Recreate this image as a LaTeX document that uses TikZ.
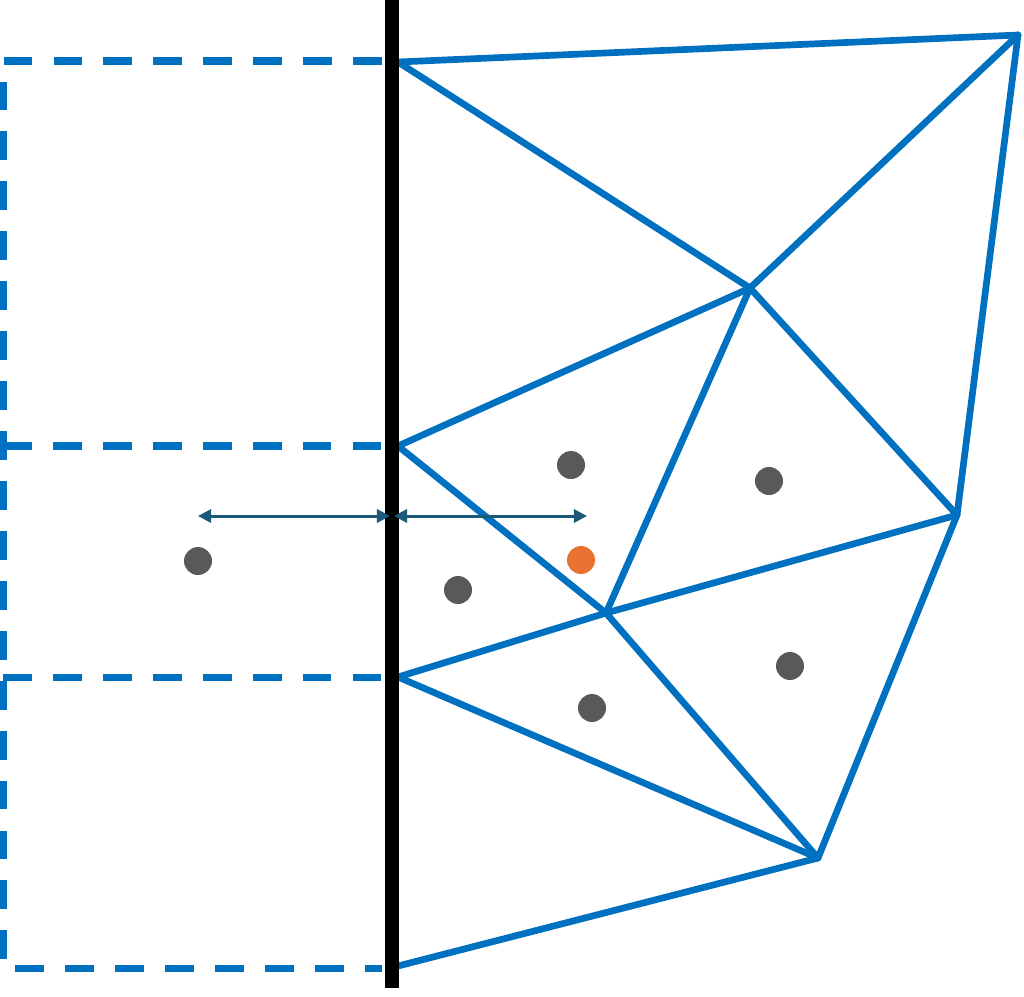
\documentclass[tikz,border=0pt]{standalone}
\usepackage{tkz-euclide}
\usetikzlibrary{arrows.meta}
\definecolor{mshblue}{RGB}{0,112,192}
\definecolor{mshgray}{RGB}{89,89,89}
\definecolor{mshorange}{RGB}{233,113,50}
\definecolor{mshteal}{RGB}{28,88,120}

\begin{document}
\begin{tikzpicture}[x=0.01cm,y=-0.01cm,line width=1.9pt]
  \useasboundingbox (0,0) rectangle (1024,996);
  % mesh vertices
  \coordinate (A) at (398,62);
  \coordinate (B) at (1018,35);
  \coordinate (C) at (750,288);
  \coordinate (D) at (398,446);
  \coordinate (E) at (957,515);
  \coordinate (F) at (606,613);
  \coordinate (G) at (398,677);
  \coordinate (H) at (818,858);
  \coordinate (I) at (398,966);
  % ghost cells
  \coordinate (P1) at (3,61);
  \coordinate (P2) at (382,61);
  \coordinate (P3) at (3,446);
  \coordinate (P4) at (382,446);
  \coordinate (P5) at (3,677);
  \coordinate (P6) at (382,677);
  \coordinate (P7) at (3,968);
  \coordinate (P8) at (382,968);
  \draw[mshblue,line width=2pt,dash pattern=on 8.2pt off 6pt]
    (P2) -- (P1) -- (P7) -- (P8) (P3) -- (P4) (P5) -- (P6);
  \tkzDrawSegments[mshblue,line width=1.9pt](A,B A,C B,C B,E C,D C,F C,E D,F F,E F,G F,H G,H E,H H,I)
  % wall
  \coordinate (W1) at (392,0);
  \coordinate (W2) at (392,988);
  \draw[black,line width=3.7pt] (W1) -- (W2);
  % distances
  \coordinate (L) at (198,516);
  \coordinate (M1) at (390,516);
  \coordinate (M2) at (394,516);
  \coordinate (R) at (587,516);
  \draw[mshteal,line width=0.85pt,{Triangle[length=0.13cm,width=0.13cm]}-{Triangle[length=0.13cm,width=0.13cm]}] (L) -- (M1);
  \draw[mshteal,line width=0.85pt,{Triangle[length=0.13cm,width=0.13cm]}-{Triangle[length=0.13cm,width=0.13cm]}] (M2) -- (R);
  % cell centres
  \foreach \p in {(198,561),(571,465),(769,481),(458,590),(790,666),(592,708)}
    \fill[mshgray] \p circle (14);
  \fill[mshorange] (581,560) circle (14);
\end{tikzpicture}
\end{document}
